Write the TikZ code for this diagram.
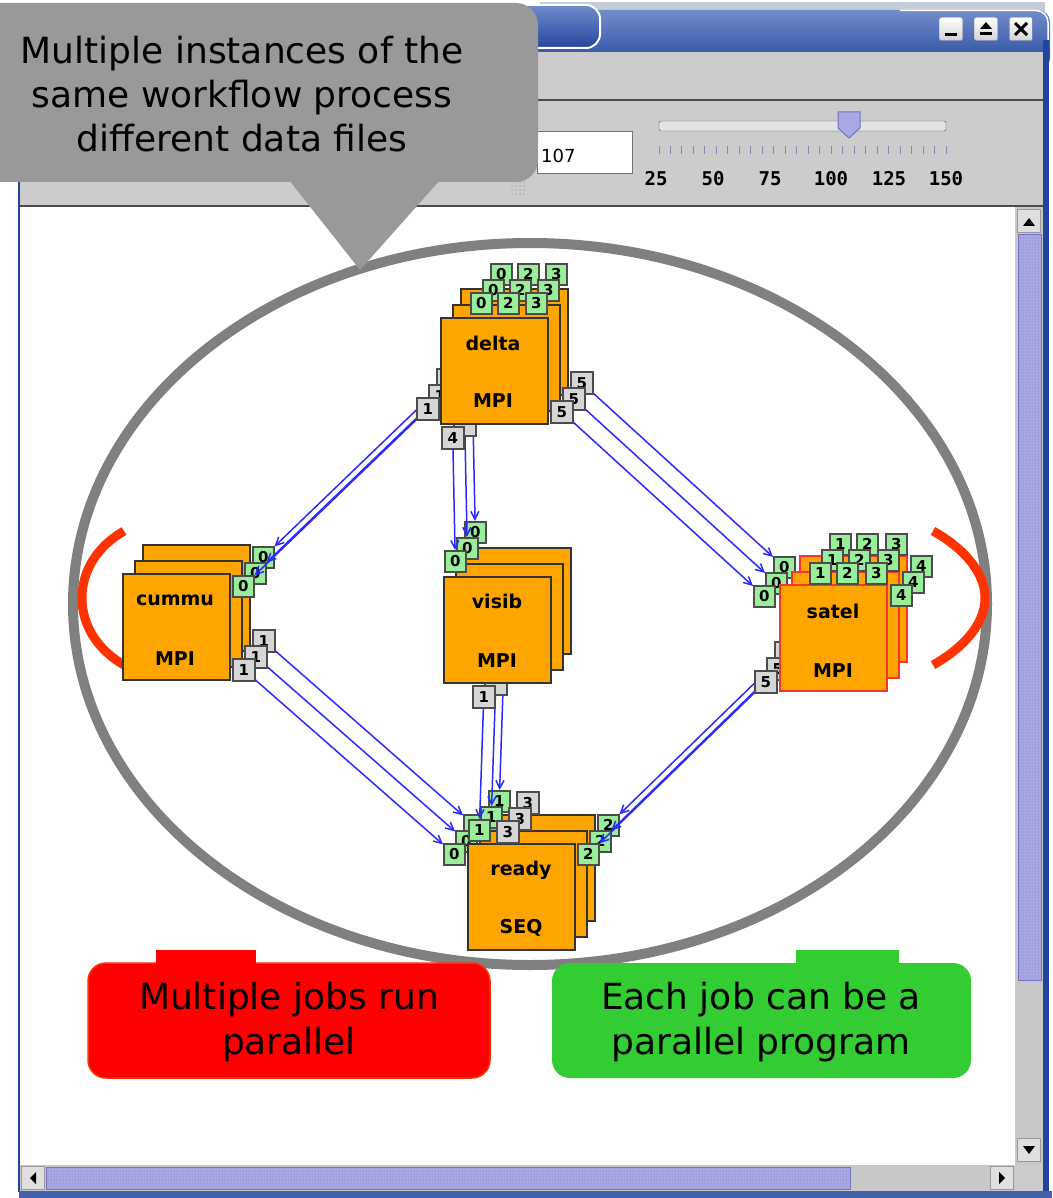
\documentclass[tikz,border=0pt]{standalone}
\usepackage{fontspec}
\setmainfont{DejaVu Sans}
\setmonofont{DejaVu Sans Mono}
\usetikzlibrary{arrows.meta,patterns}
\definecolor{orangebox}{HTML}{FFA500}
\definecolor{portgreen}{HTML}{99EE99}
\definecolor{portgrey}{HTML}{D6D6D6}
\definecolor{winblue}{HTML}{23449C}
\definecolor{winbluelight}{HTML}{728DCC}
\definecolor{topstrip}{HTML}{C4CCD8}
\definecolor{panelgrey}{HTML}{CCCCCC}
\definecolor{trackgrey}{HTML}{C8C8C8}
\definecolor{calloutgrey}{HTML}{999999}
\definecolor{ringgrey}{HTML}{808080}
\definecolor{arcred}{HTML}{FF3300}
\definecolor{calloutred}{HTML}{FF0000}
\definecolor{calloutgreen}{HTML}{33CC33}
\definecolor{thumbfill}{HTML}{A8A8E2}
\definecolor{thumbdark}{HTML}{7474BC}
\definecolor{connblue}{HTML}{2A2AFF}
\definecolor{satelred}{HTML}{FF3030}
\tikzset{
  jobbox/.style={draw=black!80, line width=1.5pt, fill=orangebox, minimum width=107pt,
    minimum height=106pt, inner sep=0pt, anchor=north west},
  joblbl/.style={font=\bfseries\fontsize{19}{19}\selectfont, inner sep=0pt},
  gport/.style={draw=black!70, line width=1.5pt, fill=portgreen, minimum size=21pt,
    inner sep=0pt, anchor=north west, font=\bfseries\fontsize{15}{15}\selectfont},
  yport/.style={gport, fill=portgrey, minimum size=22pt},
  conn/.style={draw=connblue, line width=1.5pt, -{Straight Barb[length=8pt,width=8pt]}},
  winbtn/.style={draw=gray!70, rounded corners=2pt, top color=white, bottom color=gray!35,
    minimum size=23pt, inner sep=0pt},
  sbtn/.style={draw=gray!80, fill=gray!25, minimum width=23pt, minimum height=23pt, inner sep=0pt},
  scalelbl/.style={font=\ttfamily\bfseries\fontsize{19}{19}\selectfont, inner sep=0pt},
  bigtxt/.style={font=\fontsize{36}{45}\selectfont, align=center, inner sep=0pt},
}
\newcommand\joblayer[4]{%
  \begin{scope}[shift={(#2,#3)}]
    % delta
    \node[jobbox] (delta#1) at (440,317) {};
    \node[gport] (d0#1) at (470,292) {0};
    \node[gport] (d2#1) at (497,292) {2};
    \node[gport] (d3#1) at (525,292) {3};
    \node[yport] (d1#1) at (416,397) {1};
    \node[yport] (d4#1) at (441,426) {\ifnum#4=1 4\fi};
    \node[yport] (d5#1) at (550,400) {5};
    % cummu
    \node[jobbox] (cummu#1) at (122,573) {};
    \node[gport] (c0#1) at (232,575) {0};
    \node[yport] (c1#1) at (232,658) {1};
    % visib
    \node[jobbox] (visib#1) at (443,576) {};
    \node[gport] (v0#1) at (444,550) {0};
    \node[yport] (v1#1) at (472,685) {\ifnum#4=1 1\fi};
    % satel
    \node[jobbox, draw=satelred] (satel#1) at (779,584) {};
    \node[gport] (s1#1) at (809,562) {1};
    \node[gport] (s2#1) at (836,562) {2};
    \node[gport] (s3#1) at (865,562) {3};
    \node[gport] (s4#1) at (890,584) {4};
    \node[gport] (s0#1) at (753,585) {0};
    \node[yport] (s5#1) at (754,670) {5};
    % ready
    \node[jobbox] (ready#1) at (467,843) {};
    \node[gport] (r0#1) at (443,843) {0};
    \node[gport] (r1#1) at (468,819) {1};
    \node[yport] (r3#1) at (496,820) {3};
    \node[gport] (r2#1) at (577,843) {2};
    \ifnum#4=1
      \node[joblbl] (deltaL#1) at (493,343) {delta};
      \node[joblbl] (deltaT#1) at (493,401) {MPI};
      \node[joblbl] (cummuL#1) at (175,600) {cummu};
      \node[joblbl] (cummuT#1) at (175,659) {MPI};
      \node[joblbl] (visibL#1) at (497,601) {visib};
      \node[joblbl] (visibT#1) at (497,661) {MPI};
      \node[joblbl] (satelL#1) at (833,611) {satel};
      \node[joblbl] (satelT#1) at (833,671) {MPI};
      \node[joblbl] (readyL#1) at (521,870) {ready};
      \node[joblbl] (readyT#1) at (521,928) {SEQ};
    \fi
    % connectors
    \draw[conn] (d1#1) -- (c0#1);
    \draw[conn] (d4#1) -- (v0#1);
    \draw[conn] (d5#1) -- (s0#1);
    \draw[conn] (c1#1) -- (r0#1);
    \draw[conn] (v1#1) -- (r1#1);
    \draw[conn] (s5#1) -- (r2#1);
  \end{scope}%
}
\begin{document}
\begin{tikzpicture}[x=1pt,y=-1pt]
\useasboundingbox (0,0) rectangle (1052,1198);
\fill[white] (0,0) rectangle (1052,1198);
% ---- window chrome ----
\fill[topstrip] (540,2) rectangle (1045,12);
\shade[top color=winbluelight, bottom color=winblue, rounded corners=12pt] (20,10) rectangle (1050,70);
\draw[white, line width=1.5pt, rounded corners=12pt] (900,10.5) -- (1048,10.5) -- (1048,60);
\shadedraw[top color=winbluelight, bottom color=winblue, draw=white, line width=2pt, rounded corners=14pt]
  (10,5) -- (600,5) -- (600,48) -- (10,48);
\fill[panelgrey] (20,52) rectangle (1043,207);
\draw[black!70, line width=2pt] (20,100) -- (1043,100);
\draw[black!70, line width=2pt] (20,206) -- (1043,206);
\draw[winblue, line width=2pt] (19,52) -- (19,1192);
\fill[winblue] (1043,40) rectangle (1049,1198);
% title buttons
\node[winbtn] (bmin) at (951,29) {};
\node[winbtn] (bmax) at (986,29) {};
\node[winbtn] (bclose) at (1021,29) {};
\fill[black] (945,33) rectangle (957,36);
\fill[black] (980,29) -- (992,29) -- (986,22) -- cycle;
\fill[black] (980,32) rectangle (992,35);
\draw[black, line width=3pt] (1015,23) -- (1027,35);
\draw[black, line width=3pt] (1015,35) -- (1027,23);
% text field
\node[draw=gray!90!black, fill=white, minimum width=95pt, minimum height=42pt, anchor=north west, inner sep=0pt] (field) at (537,131) {};
\node[anchor=west, font=\fontsize{18}{18}\selectfont, inner sep=0pt] (fieldtxt) at (541,156) {107};
% grip
\foreach \gx in {512,516,520,524} \foreach \gy in {182,186,190,194} \fill[gray!60] (\gx,\gy) circle[radius=1pt];
% slider
\draw[draw=gray!60!black, fill=gray!22, rounded corners=2pt] (659,121) rectangle (946,131);
\foreach \i in {0,...,25} {
  \pgfmathsetmacro\tx{659+\i*11.48}
  \draw[thumbfill!80!black, line width=1pt] (\tx,146) -- (\tx,154);
}
\filldraw[fill=thumbfill, draw=thumbdark, line width=1pt] (838,112) -- (860,112) -- (860,128) -- (849,138) -- (838,128) -- cycle;
\node[scalelbl] (t25) at (656,179) {25};
\node[scalelbl] (t50) at (713,179) {50};
\node[scalelbl] (t75) at (770,179) {75};
\node[scalelbl] (t100) at (831,179) {100};
\node[scalelbl] (t125) at (889,179) {125};
\node[scalelbl] (t150) at (946,179) {150};
% vertical scrollbar
\fill[trackgrey] (1015,207) rectangle (1043,1165);
\node[sbtn] (vup) at (1029,221) {};
\fill[black] (1023,226) -- (1035,226) -- (1029,218) -- cycle;
\filldraw[fill=thumbfill, draw=thumbdark] (1018,234) rectangle (1041,980);
\fill[pattern=dots, pattern color=thumbdark] (1019,235) rectangle (1040,979);
\node[sbtn] (vdown) at (1029,1150) {};
\fill[black] (1023,1146) -- (1035,1146) -- (1029,1154) -- cycle;
% horizontal scrollbar
\fill[trackgrey] (20,1165) rectangle (1015,1191);
\node[sbtn] (hleft) at (33,1178) {};
\fill[black] (36,1172) -- (36,1184) -- (30,1178) -- cycle;
\filldraw[fill=thumbfill, draw=thumbdark] (46,1167) rectangle (850,1189);
\fill[pattern=dots, pattern color=thumbdark] (47,1168) rectangle (849,1188);
\node[sbtn] (hright) at (1002,1178) {};
\fill[black] (999,1172) -- (999,1184) -- (1005,1178) -- cycle;
\fill[panelgrey] (1015,1165) rectangle (1043,1191);
\fill[winblue!85] (19,1191) rectangle (1052,1198);
% ---- diagram ----
\draw[ringgrey, line width=10pt] (530,604) ellipse [x radius=457pt, y radius=361pt];
\draw[arcred, line width=9pt] (124,531) .. controls (98,546) and (82,570) .. (82,598) .. controls (82,626) and (98,650) .. (124,665);
\draw[arcred, line width=9pt] (933,531) .. controls (960,546) and (985,570) .. (985,598) .. controls (985,626) and (960,650) .. (933,665);
\joblayer{c}{20}{-29}{0}
\joblayer{b}{12}{-13}{0}
\joblayer{a}{0}{0}{1}
% ---- bottom callouts ----
\filldraw[fill=calloutred, draw=arcred, line width=1.5pt, rounded corners=18pt] (88,963) rectangle (490,1078);
\fill[calloutred] (156,950) rectangle (256,964.5);
\node[bigtxt] (redtxt) at (289,1022) {Multiple jobs run\\parallel};
\fill[calloutgreen, rounded corners=18pt] (552,963) rectangle (971,1078);
\fill[calloutgreen] (796,950) rectangle (899,964.5);
\node[bigtxt] (greentxt) at (761,1022) {Each job can be a\\parallel program};
% ---- top grey callout ----
\fill[calloutgrey, rounded corners=22pt] (-40,3) rectangle (538,182);
\fill[calloutgrey] (289,180) -- (440,180) -- (360,270) -- cycle;
\node[bigtxt, font=\fontsize{36}{44}\selectfont] (greytxt) at (242,94) {Multiple instances of the\\same workflow process\\different data files};
\end{tikzpicture}
\end{document}
